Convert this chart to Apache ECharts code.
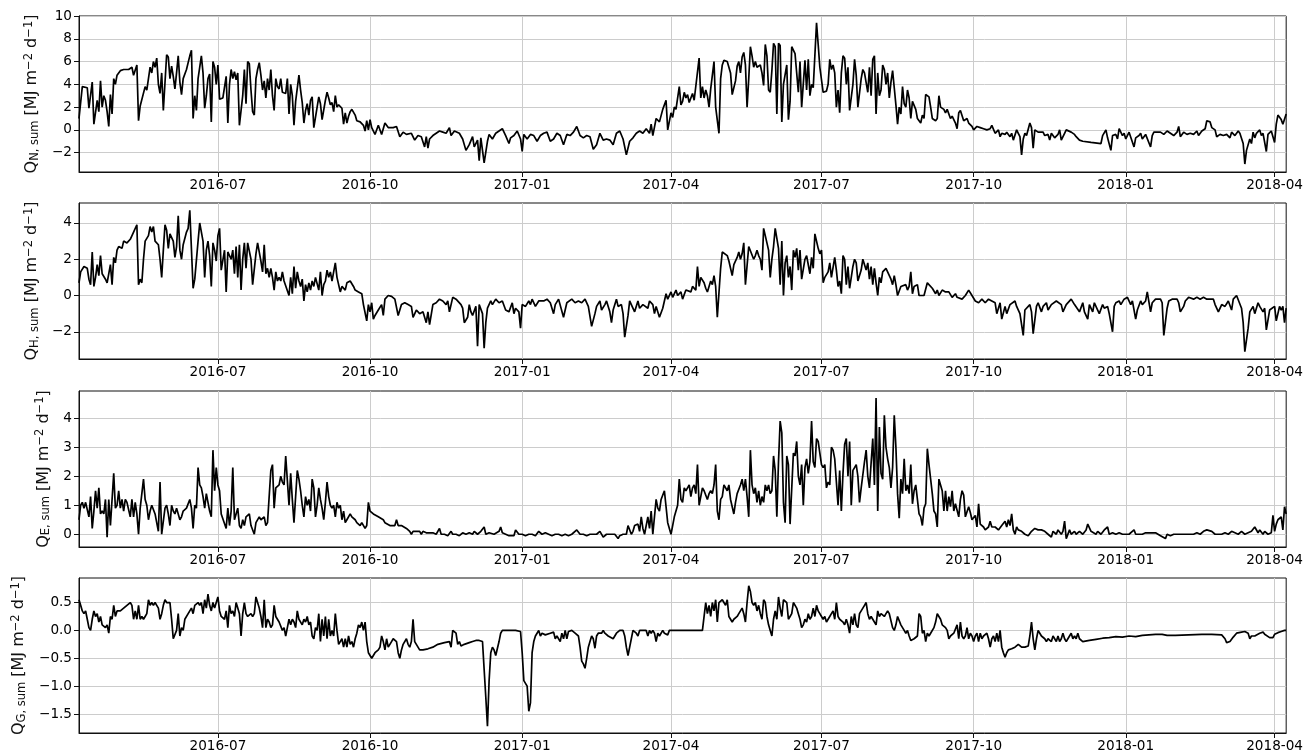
<!DOCTYPE html>
<html>
<head>
<meta charset="utf-8">
<script src="https://cdn.jsdelivr.net/npm/echarts@6/dist/echarts.min.js"></script>
<style>
html,body{margin:0;padding:0;background:#fff;}
#chart{width:1306px;height:755px;}
</style>
</head>
<body>
<div id="chart"></div>
<script>
// ---- DATA ----
// day offsets counted from the first date of the record (2016-04-08), values in MJ m-2 d-1
const START_DATE = '2016-04-08';
const LAST_DAY = 730;
const X_TICK_LABELS = ['2016-07','2016-10','2017-01','2017-04','2017-07','2017-10','2018-01','2018-04'];
const QN_TICKS = [-2, 0, 2, 4, 6, 8, 10];
const QH_TICKS = [-2, 0, 2, 4];
const QE_TICKS = [0, 1, 2, 3, 4];
const QG_TICKS = [-1.5, -1.0, -0.5, 0.0, 0.5];

const QN = [[0,1.0],[2,3.8],[5,3.7],[6,1.9],[8,4.2],[9,0.5],[11,2.6],[12,1.6],[13,4.3],[14,2.0],[15,3.0],[16,2.6],[17,1.6],[18,0.3],[19,3.1],[20,1.4],[21,4.5],[22,4.0],[23,4.8],[25,5.2],[27,5.3],[30,5.3],[32,5.5],[33,4.8],[35,5.7],[36,0.8],[37,2.1],[38,2.0],[40,3.8],[41,3.5],[42,4.5],[43,5.5],[44,5.0],[45,6.0],[46,5.5],[47,6.3],[48,4.0],[49,3.2],[50,5.0],[51,1.7],[52,1.8],[53,6.6],[54,6.4],[55,4.5],[56,5.6],[57,4.7],[58,3.6],[59,5.0],[60,6.5],[61,4.2],[62,3.1],[63,4.5],[65,5.3],[67,6.5],[68,7.0],[69,1.0],[70,3.0],[71,1.7],[72,4.5],[74,6.5],[75,5.0],[76,1.9],[77,3.0],[78,4.5],[79,4.9],[80,0.7],[81,6.0],[82,5.5],[83,4.0],[84,5.7],[85,2.7],[87,2.8],[89,4.7],[90,0.6],[91,4.0],[92,5.3],[93,4.5],[94,5.1],[95,4.4],[96,5.0],[97,0.4],[99,3.0],[100,5.3],[101,2.3],[102,6.0],[103,5.8],[104,3.5],[105,1.6],[106,1.3],[107,4.5],[108,5.3],[109,5.9],[110,4.8],[111,3.5],[112,4.3],[113,2.8],[114,4.5],[115,3.5],[116,5.3],[117,3.0],[118,1.7],[119,4.5],[120,3.8],[121,3.6],[122,4.5],[123,3.3],[125,3.2],[126,4.5],[127,1.4],[128,4.0],[129,3.0],[130,0.4],[131,2.5],[132,2.6],[133,4.8],[134,3.5],[135,2.4],[136,0.6],[137,1.7],[138,2.3],[139,1.3],[140,2.6],[141,2.9],[142,0.2],[144,2.0],[145,2.9],[146,2.3],[147,0.9],[149,2.6],[150,3.3],[151,2.8],[152,2.2],[153,2.4],[154,1.6],[155,3.0],[156,2.0],[157,2.2],[159,1.9],[160,0.5],[161,1.5],[162,0.6],[163,1.2],[164,1.6],[165,1.8],[167,1.3],[168,0.8],[170,0.7],[172,0.4],[173,-0.1],[174,0.8],[175,0.0],[176,0.9],[177,0.2],[179,-0.4],[181,0.4],[182,0.3],[183,-0.4],[185,0.6],[187,0.2],[190,0.2],[192,0.3],[194,-0.6],[196,-0.2],[198,-0.4],[201,-0.3],[203,-0.9],[205,-0.5],[207,-0.6],[209,-1.5],[210,-0.6],[211,-1.6],[212,-0.8],[214,-0.5],[216,-0.3],[218,-0.1],[220,-0.2],[222,-0.3],[224,0.2],[225,-0.5],[227,-0.1],[230,-0.3],[232,-0.8],[234,-1.8],[236,-1.3],[238,-0.6],[239,-1.5],[241,-0.9],[242,-2.7],[243,-0.7],[244,-0.6],[245,-2.9],[247,-1.0],[248,-0.4],[250,-0.8],[252,-0.3],[254,-0.1],[256,0.1],[258,-0.5],[260,-1.2],[261,-0.7],[263,-0.5],[265,-0.1],[267,-0.8],[268,-1.9],[269,-0.4],[271,-0.8],[273,-0.4],[275,-0.5],[277,-1.0],[279,-0.5],[281,-0.3],[283,-0.2],[285,-1.0],[287,-0.8],[289,-0.3],[291,-0.5],[293,-1.3],[295,-0.4],[297,-0.5],[299,-0.2],[301,0.3],[303,-0.5],[305,-0.7],[307,-0.5],[309,-0.6],[311,-1.7],[313,-1.3],[315,-0.3],[317,-0.9],[319,-0.8],[321,-0.9],[323,-1.3],[325,-0.3],[327,-0.1],[329,-0.8],[331,-2.2],[333,-1.0],[335,-0.7],[337,-0.3],[339,-0.1],[341,-0.3],[343,0.1],[345,-0.3],[346,0.5],[347,-0.5],[349,1.0],[351,0.7],[353,1.8],[355,2.6],[356,0.0],[358,1.5],[359,1.1],[360,2.0],[361,1.8],[363,3.8],[364,2.2],[365,2.5],[366,3.3],[367,2.8],[368,3.1],[369,2.4],[371,3.2],[372,2.6],[373,2.7],[375,6.3],[376,2.8],[377,3.8],[378,2.8],[379,3.5],[380,3.0],[381,2.0],[382,3.6],[383,3.7],[384,6.0],[385,2.0],[387,-0.3],[388,4.5],[389,5.7],[390,6.1],[392,6.0],[393,5.5],[394,5.0],[395,3.1],[397,4.3],[398,5.6],[399,6.0],[400,5.0],[401,6.4],[402,6.8],[403,5.7],[404,2.0],[405,4.5],[406,7.3],[407,6.5],[408,5.5],[409,6.0],[410,5.5],[412,5.7],[413,5.0],[414,3.9],[415,7.5],[416,6.5],[417,3.5],[418,3.3],[419,5.2],[420,7.6],[421,7.3],[422,1.4],[423,7.6],[424,7.4],[425,0.7],[426,4.0],[428,5.7],[429,0.9],[430,2.5],[431,7.3],[432,7.0],[433,6.7],[435,3.3],[436,6.0],[437,2.0],[439,6.1],[440,3.5],[441,6.2],[442,3.0],[443,4.0],[444,3.7],[446,9.4],[447,7.5],[448,5.5],[449,5.4],[450,3.3],[452,3.4],[453,4.0],[454,6.2],[455,5.3],[456,5.7],[457,5.0],[458,2.0],[459,3.5],[460,1.5],[461,5.0],[462,6.5],[463,6.3],[464,4.0],[465,5.5],[466,1.7],[468,4.0],[469,6.2],[470,4.8],[471,2.0],[473,4.5],[474,5.3],[475,5.0],[476,5.1],[477,3.3],[478,5.5],[479,3.0],[480,6.2],[481,6.5],[482,1.4],[483,5.0],[484,3.0],[485,3.5],[486,5.7],[487,5.3],[488,4.0],[489,5.0],[490,2.8],[491,4.2],[492,5.2],[493,3.7],[494,2.2],[495,0.5],[496,2.0],[497,1.4],[498,3.8],[499,2.3],[500,2.0],[501,3.5],[502,2.8],[503,1.0],[504,2.5],[506,1.8],[507,1.0],[509,0.6],[510,1.3],[511,1.0],[512,3.1],[514,2.9],[515,2.0],[516,1.0],[518,0.8],[519,1.0],[520,3.0],[521,2.0],[522,2.0],[523,1.8],[524,1.5],[525,1.8],[527,1.0],[528,1.2],[530,0.6],[531,0.1],[532,1.5],[533,1.7],[534,1.6],[535,0.8],[537,1.0],[538,0.6],[540,0.3],[541,0.0],[543,0.3],[545,0.2],[547,0.1],[549,0.0],[551,0.1],[552,0.4],[553,0.4],[554,-0.3],[556,0.0],[557,-0.6],[558,-0.3],[560,-0.4],[561,-0.2],[563,-0.6],[564,-0.3],[565,-0.9],[567,0.0],[568,-0.3],[569,-0.6],[570,-2.2],[571,-0.8],[572,-0.3],[573,-0.5],[575,0.6],[576,0.2],[577,-1.6],[578,0.0],[580,-0.2],[581,-0.3],[583,-0.2],[584,-0.5],[586,-0.4],[587,-0.9],[588,-0.3],[590,-0.7],[592,-0.4],[593,0.0],[594,-0.9],[596,-0.3],[597,0.0],[598,0.1],[600,-0.2],[602,-0.4],[603,-0.6],[605,-0.9],[607,-1.0],[612,-1.1],[618,-1.2],[619,-0.5],[621,0.0],[622,-0.7],[624,-1.8],[625,-0.5],[627,-0.4],[628,-0.8],[629,0.1],[631,-0.5],[632,-0.3],[633,-0.8],[635,-0.2],[636,-0.3],[638,-1.5],[639,-0.7],[641,-0.5],[642,-0.3],[643,-0.8],[645,-0.4],[646,-0.4],[648,-1.5],[649,-0.5],[650,-0.2],[652,-0.2],[654,-0.2],[656,-0.4],[658,-0.1],[660,-0.3],[662,-0.5],[664,-0.2],[665,0.3],[666,-0.6],[668,-0.2],[670,-0.4],[672,-0.3],[674,-0.4],[676,-0.1],[677,-0.5],[679,-0.1],[681,0.1],[682,0.8],[684,0.7],[685,0.2],[687,0.0],[688,-0.6],[690,-0.4],[692,-0.5],[694,-0.4],[696,-0.7],[697,-0.2],[699,-0.5],[701,-0.1],[702,-0.3],[704,-1.2],[705,-3.0],[706,-1.8],[708,-0.8],[709,-1.2],[710,-0.2],[711,-0.7],[712,-0.3],[714,0.0],[715,-0.5],[716,-0.3],[718,-1.9],[719,-0.4],[721,-0.1],[722,0.0],[723,-1.1],[724,0.5],[725,1.3],[727,0.9],[728,0.5],[730,1.4]];

const QH = [[0,0.7],[1,1.3],[3,1.6],[4,1.7],[5,1.5],[6,0.9],[7,0.6],[8,2.4],[9,0.5],[10,1.0],[11,1.7],[12,1.1],[13,2.2],[14,1.2],[15,1.3],[16,0.9],[17,0.7],[18,0.6],[19,1.7],[20,0.6],[21,2.1],[22,1.8],[23,2.5],[24,2.7],[26,2.6],[27,3.0],[29,2.9],[31,3.1],[33,3.5],[35,3.9],[36,0.6],[37,0.9],[38,0.7],[39,2.0],[40,3.0],[42,3.3],[43,3.8],[44,3.5],[45,3.8],[46,3.0],[48,2.8],[49,2.0],[50,1.0],[51,2.5],[52,3.9],[53,3.6],[54,2.6],[55,3.4],[57,3.0],[58,2.1],[59,2.7],[60,4.4],[61,2.5],[62,2.0],[63,2.8],[65,3.5],[66,3.7],[67,4.7],[68,4.6],[69,0.4],[70,0.9],[71,0.8],[72,3.0],[73,4.0],[75,3.0],[76,1.0],[77,2.5],[78,3.0],[79,2.2],[80,0.5],[81,2.9],[82,2.5],[83,1.9],[84,3.3],[85,3.7],[86,1.4],[87,1.3],[88,2.5],[89,0.2],[90,2.4],[92,2.0],[93,2.5],[94,1.2],[95,2.7],[96,1.0],[97,2.8],[98,0.3],[99,2.0],[100,2.9],[101,1.5],[102,2.9],[103,2.8],[104,2.0],[105,0.6],[106,0.7],[107,2.3],[108,2.9],[109,2.8],[110,1.9],[111,1.3],[112,2.8],[113,1.2],[114,1.5],[115,1.0],[116,1.5],[117,1.0],[118,0.3],[119,1.3],[120,0.8],[121,1.0],[122,0.8],[123,1.3],[124,0.8],[125,0.7],[127,0.0],[128,1.0],[129,0.1],[130,1.6],[131,0.4],[132,1.3],[133,0.8],[134,0.5],[135,0.9],[136,-0.3],[137,0.6],[138,0.2],[139,0.7],[140,0.3],[141,0.8],[142,0.5],[143,1.0],[144,0.9],[145,0.3],[146,1.3],[147,0.0],[148,0.6],[149,0.8],[150,1.4],[151,1.0],[152,1.3],[153,0.8],[154,1.3],[155,1.8],[156,1.0],[157,1.1],[158,0.2],[159,0.5],[161,0.3],[162,0.7],[164,0.8],[165,0.9],[166,0.5],[167,0.3],[169,0.2],[171,0.1],[172,-0.5],[173,-0.6],[174,-1.4],[175,-0.5],[176,-0.9],[177,-0.4],[178,-1.3],[179,-1.1],[181,-0.8],[183,-0.5],[184,-1.1],[185,-0.2],[187,0.0],[189,-0.05],[191,-0.2],[192,-0.3],[193,-1.1],[195,-0.5],[197,-0.4],[199,-0.5],[201,-0.6],[202,-1.2],[204,-0.8],[206,-1.0],[208,-0.9],[210,-1.5],[211,-0.9],[212,-1.6],[214,-0.5],[216,-0.4],[218,-0.2],[220,-0.3],[222,-0.5],[223,-0.3],[224,-0.9],[226,-0.1],[228,-0.2],[229,-0.3],[231,-0.5],[232,-0.7],[233,-1.5],[235,-1.2],[236,-0.5],[237,-0.9],[238,-1.1],[240,-0.6],[241,-2.8],[242,-0.5],[243,-0.4],[244,-1.0],[245,-2.9],[246,-1.5],[247,-0.7],[249,-0.3],[250,-0.5],[252,-0.2],[254,-0.4],[256,-0.3],[258,-0.8],[260,-0.9],[262,-0.4],[263,-1.0],[264,-0.7],[266,-0.9],[267,-1.8],[268,-0.5],[270,-0.6],[272,-0.3],[273,-0.5],[274,-0.2],[276,-0.6],[278,-0.3],[279,-0.2],[281,-0.3],[283,-0.2],[285,-0.4],[287,-1.0],[288,-0.5],[290,-0.2],[291,-0.3],[293,-1.2],[295,-0.4],[296,-0.3],[298,-0.2],[300,-0.4],[302,-0.3],[304,-0.4],[306,-0.2],[308,-0.6],[310,-1.7],[312,-1.0],[313,-0.6],[315,-0.3],[316,-0.8],[318,-0.5],[319,-0.3],[321,-0.9],[322,-1.5],[323,-0.8],[325,-0.2],[326,-0.6],[328,-0.5],[329,-1.0],[330,-2.3],[332,-1.1],[333,-0.3],[334,-0.5],[336,-0.9],[338,-0.3],[339,-0.7],[341,-0.5],[342,-0.6],[344,-0.7],[345,-0.3],[347,-0.5],[348,-1.0],[349,-0.6],[351,-1.2],[353,-0.7],[355,0.1],[356,-0.2],[358,0.2],[359,-0.1],[361,0.3],[362,0.0],[364,0.2],[365,-0.2],[367,0.3],[368,0.4],[370,0.2],[371,0.5],[373,0.3],[374,1.6],[375,0.5],[376,1.0],[378,0.7],[379,0.4],[380,0.2],[382,0.8],[383,0.6],[384,1.1],[385,0.5],[386,-1.2],[388,1.5],[389,2.4],[390,2.3],[392,2.2],[393,1.9],[394,2.0],[395,1.1],[396,1.7],[398,2.1],[399,2.4],[400,2.0],[401,2.3],[402,2.9],[403,0.6],[404,0.7],[405,2.7],[406,2.6],[408,2.0],[409,2.2],[410,2.5],[411,2.2],[412,2.0],[413,1.4],[414,3.7],[415,3.3],[417,2.5],[418,1.0],[419,2.0],[420,2.7],[421,3.7],[423,2.6],[424,0.6],[425,3.0],[426,0.0],[427,1.8],[428,2.2],[429,1.0],[430,1.6],[431,0.3],[432,2.5],[433,2.1],[434,2.6],[435,1.4],[436,2.5],[437,0.9],[439,2.0],[440,2.2],[441,2.3],[442,1.2],[443,2.1],[444,1.5],[445,3.4],[447,2.6],[448,2.3],[449,2.5],[450,0.7],[451,1.0],[452,0.9],[453,1.3],[454,1.8],[455,1.0],[457,2.1],[458,1.4],[459,0.5],[460,0.8],[461,0.1],[462,2.2],[463,2.0],[464,0.6],[465,1.6],[466,0.4],[468,1.6],[469,2.0],[470,1.8],[471,0.8],[473,1.4],[474,2.0],[476,1.4],[477,1.8],[478,0.9],[479,1.6],[480,0.6],[481,1.5],[482,0.7],[483,0.0],[484,1.0],[485,0.7],[486,1.3],[488,1.5],[489,1.4],[491,0.9],[492,0.6],[493,1.1],[494,0.6],[495,0.0],[497,0.5],[498,0.4],[500,0.6],[501,0.3],[502,0.5],[503,1.3],[504,0.1],[505,0.5],[507,0.6],[508,0.0],[509,0.1],[511,0.0],[513,0.7],[514,0.8],[516,0.4],[518,0.1],[519,0.3],[520,0.0],[522,0.3],[524,0.2],[525,0.1],[526,0.2],[528,-0.1],[530,0.1],[531,-0.1],[532,0.0],[534,-0.2],[536,0.0],[537,-0.1],[538,0.3],[540,0.0],[542,-0.3],[544,-0.4],[546,-0.2],[548,-0.4],[550,-0.2],[552,-0.3],[554,-0.4],[555,-1.0],[557,-0.4],[558,-1.3],[560,-0.6],[561,-1.0],[563,-0.5],[564,-0.4],[566,-0.3],[567,-0.6],[569,-1.0],[571,-2.2],[572,-0.8],[573,-0.9],[575,-0.5],[576,-0.9],[577,-2.1],[579,-0.6],[580,-0.4],[582,-0.9],[583,-0.6],[585,-0.4],[586,-0.8],[588,-0.5],[589,-0.4],[591,-0.3],[592,-0.2],[594,-0.5],[595,-0.9],[597,-0.5],[598,-0.4],[600,-0.2],[602,-0.5],[603,-0.6],[605,-0.9],[607,-0.4],[608,-0.9],[610,-1.3],[611,-0.5],[613,-0.9],[614,-0.4],[616,-0.8],[617,-1.0],[619,-0.5],[620,-0.7],[622,-0.6],[623,-1.0],[625,-2.0],[626,-0.6],[627,-0.4],[629,-0.3],[630,-0.5],[632,-0.2],[633,-0.3],[634,-0.1],[636,-0.5],[637,-0.3],[639,-1.3],[640,-0.8],[642,-0.3],[643,-0.5],[645,-0.3],[646,0.2],[648,-0.9],[649,-0.4],[651,-0.2],[652,-0.3],[654,-0.2],[655,-0.4],[656,-2.2],[658,-0.7],[659,-0.3],[661,-0.2],[662,-0.3],[664,-0.2],[665,-0.4],[666,-0.9],[668,-0.6],[669,-0.3],[671,-0.1],[672,-0.05],[674,-0.2],[676,-0.1],[678,-0.2],[680,-0.1],[682,-0.2],[684,-0.2],[686,-0.2],[687,-0.5],[689,-0.9],[691,-0.5],[692,-0.4],[693,-0.6],[695,-0.3],[697,-0.8],[698,-0.2],[700,0.0],[701,-0.1],[703,-0.7],[704,-1.5],[705,-3.1],[707,-1.8],[708,-0.9],[710,-0.6],[711,-1.0],[713,-0.4],[714,-0.6],[716,-0.9],[717,-0.7],[718,-1.9],[720,-0.8],[721,-0.9],[723,-0.6],[724,-1.4],[726,-0.6],[727,-0.8],[728,-0.6],[729,-1.5],[730,-0.7]];

const QE = [[0,0.5],[1,1.0],[2,1.1],[3,0.9],[4,1.1],[5,1.1],[6,0.6],[7,1.3],[8,0.2],[9,0.8],[10,1.5],[11,0.9],[12,1.6],[13,0.7],[14,0.8],[15,0.7],[16,1.2],[17,-0.1],[18,1.2],[19,0.3],[21,2.1],[22,0.9],[23,1.0],[24,1.5],[25,0.9],[26,1.2],[27,0.8],[28,1.2],[29,1.1],[31,0.6],[32,1.2],[33,0.6],[34,1.1],[35,0.7],[36,0.0],[37,0.9],[38,1.4],[39,1.9],[40,1.2],[41,1.0],[42,0.5],[43,0.8],[44,1.0],[45,1.0],[46,0.7],[48,0.1],[49,1.8],[50,0.0],[51,0.0],[52,0.9],[53,1.0],[54,0.7],[55,0.3],[56,1.0],[57,0.8],[58,0.7],[59,0.9],[60,0.7],[61,0.5],[62,0.6],[63,0.8],[65,0.9],[67,1.2],[68,0.9],[69,0.2],[70,1.0],[71,0.9],[72,2.3],[73,1.7],[74,1.6],[75,1.3],[76,0.9],[77,1.4],[78,1.4],[79,0.8],[80,0.6],[81,2.9],[82,1.5],[83,2.3],[84,1.7],[85,1.5],[86,0.7],[87,0.7],[89,0.2],[90,0.9],[91,0.3],[92,0.8],[93,2.3],[94,0.5],[95,0.5],[96,0.9],[97,0.3],[98,0.2],[99,0.5],[100,0.3],[101,0.6],[103,0.7],[104,0.3],[106,0.0],[107,0.4],[109,0.6],[110,0.5],[112,0.6],[113,0.3],[114,0.4],[116,2.2],[117,2.4],[118,0.9],[119,1.6],[120,1.6],[121,1.7],[122,2.0],[123,1.8],[124,1.7],[125,2.7],[127,1.0],[128,2.1],[129,1.2],[130,0.4],[131,1.3],[132,2.2],[133,1.9],[134,1.5],[135,1.0],[136,0.6],[137,1.3],[138,1.0],[139,1.2],[140,0.8],[141,1.9],[142,1.6],[143,0.6],[144,1.0],[145,1.6],[146,1.2],[147,0.9],[148,0.5],[149,1.1],[150,1.8],[151,1.3],[152,1.0],[153,0.9],[154,1.0],[155,0.6],[156,1.1],[157,0.9],[158,1.0],[159,0.5],[160,0.8],[161,0.4],[162,0.5],[164,0.7],[165,0.6],[167,0.5],[168,0.4],[170,0.3],[171,0.4],[173,0.2],[174,0.3],[175,1.1],[176,0.8],[178,0.7],[179,0.7],[181,0.6],[182,0.6],[184,0.5],[185,0.4],[186,0.4],[188,0.3],[189,0.3],[191,0.3],[192,0.5],[193,0.3],[195,0.3],[196,0.3],[198,0.2],[200,0.1],[201,0.0],[202,0.1],[204,0.1],[206,0.1],[207,0.0],[208,0.1],[210,0.05],[212,0.05],[214,0.05],[216,0.0],[218,0.2],[219,0.0],[221,0.0],[223,-0.05],[225,0.1],[226,0.0],[228,0.0],[230,-0.05],[232,0.05],[234,0.0],[236,0.05],[238,0.0],[239,0.1],[241,0.0],[242,0.05],[243,0.1],[245,0.25],[246,0.0],[248,0.05],[249,0.1],[251,0.0],[252,0.0],[254,0.1],[255,0.25],[256,0.05],[258,0.0],[260,-0.05],[261,0.0],[263,-0.05],[264,0.15],[266,0.0],[268,0.0],[270,-0.05],[272,0.0],[274,0.0],[276,-0.05],[278,0.1],[280,0.0],[282,0.05],[284,0.0],[286,-0.05],[288,0.0],[290,0.0],[292,-0.05],[294,0.0],[296,-0.05],[298,0.0],[299,0.05],[301,0.15],[303,0.0],[305,0.0],[307,-0.05],[309,0.0],[311,0.0],[313,0.0],[315,0.1],[317,-0.1],[319,0.0],[321,0.0],[322,-0.05],[324,0.0],[326,-0.15],[327,-0.05],[329,0.0],[331,0.0],[332,0.3],[334,0.0],[335,0.1],[336,0.3],[338,0.35],[339,0.1],[340,0.6],[341,0.2],[342,0.0],[344,0.6],[345,0.2],[346,0.8],[347,0.0],[348,0.0],[349,1.2],[350,0.9],[351,0.8],[352,1.2],[354,1.5],[355,1.5],[356,0.4],[358,0.0],[359,0.3],[360,0.6],[362,1.0],[363,1.9],[364,1.2],[365,1.1],[366,1.6],[367,1.5],[368,1.6],[369,1.7],[370,1.3],[371,1.6],[372,1.7],[373,1.4],[374,2.4],[375,1.0],[377,1.6],[378,1.5],[379,1.5],[380,1.2],[381,1.4],[382,1.5],[383,1.4],[384,1.7],[385,2.4],[386,0.8],[387,0.5],[388,1.2],[389,1.3],[390,1.7],[392,1.5],[393,1.7],[394,1.2],[396,0.7],[397,1.1],[398,1.4],[400,1.7],[401,1.9],[402,1.5],[403,1.9],[404,1.3],[405,0.6],[406,2.9],[407,1.7],[408,1.4],[409,1.6],[410,1.1],[411,1.5],[412,1.0],[413,1.3],[414,1.1],[415,1.7],[416,1.5],[417,1.7],[418,1.4],[419,1.5],[420,2.7],[421,2.2],[422,0.6],[423,2.5],[424,3.9],[425,3.5],[426,1.1],[427,0.4],[428,2.7],[429,2.4],[430,0.35],[431,0.4],[432,2.8],[433,2.7],[434,3.2],[435,2.0],[436,1.7],[437,2.4],[438,1.0],[439,2.3],[440,2.6],[441,2.1],[442,2.5],[443,3.9],[444,2.5],[445,2.3],[446,3.3],[447,3.2],[448,2.8],[449,2.4],[450,2.3],[451,2.4],[452,1.6],[453,1.8],[454,1.7],[455,3.0],[456,2.9],[457,2.6],[458,1.8],[459,1.0],[460,2.2],[461,0.8],[462,2.1],[463,3.1],[464,3.3],[465,2.0],[466,3.2],[467,1.0],[468,2.2],[469,2.3],[470,2.4],[471,2.0],[472,1.1],[473,1.6],[475,2.5],[476,2.9],[477,2.0],[478,1.6],[480,3.3],[481,1.7],[482,4.7],[483,0.8],[484,3.7],[485,2.1],[486,1.9],[487,4.1],[488,3.0],[489,2.6],[490,2.3],[491,1.6],[492,2.3],[493,4.1],[494,3.0],[495,1.4],[496,0.55],[497,1.9],[498,1.4],[499,2.6],[500,1.5],[501,1.7],[502,1.4],[503,2.4],[504,1.05],[505,1.5],[506,1.7],[507,1.7],[508,0.7],[509,0.6],[510,0.3],[511,0.9],[512,1.05],[513,2.95],[514,2.4],[515,1.9],[516,1.4],[517,0.8],[518,0.7],[519,0.25],[520,1.9],[521,1.9],[522,1.5],[523,0.8],[524,1.5],[525,0.8],[526,1.3],[527,0.95],[528,1.5],[529,0.8],[530,1.05],[531,1.0],[532,0.6],[533,1.2],[534,1.5],[535,1.35],[536,0.6],[537,0.6],[538,0.95],[539,0.75],[540,0.5],[541,0.45],[542,0.65],[543,0.25],[544,1.05],[545,0.35],[546,0.35],[547,0.25],[548,0.15],[550,0.25],[551,0.45],[552,0.25],[553,0.2],[554,0.25],[556,0.15],[558,0.3],[560,0.45],[561,0.25],[562,0.5],[563,0.3],[564,0.7],[565,0.15],[566,0.0],[567,0.25],[568,0.15],[570,0.1],[572,0.0],[574,-0.05],[576,0.1],[578,0.2],[580,0.15],[582,0.15],[584,0.1],[586,0.0],[588,-0.1],[589,0.1],[591,0.0],[592,0.15],[594,0.0],[595,0.1],[596,0.45],[597,-0.15],[599,0.15],[600,0.0],[602,0.1],[603,0.0],[605,0.1],[607,0.0],[609,0.15],[610,0.35],[612,0.1],[613,0.15],[615,0.0],[616,0.1],[618,0.0],[620,0.15],[622,0.25],[623,0.0],[625,0.05],[627,0.0],[629,0.05],[631,0.0],[633,0.0],[635,0.0],[636,0.0],[638,0.15],[639,0.0],[641,0.0],[643,0.0],[645,0.05],[646,0.1],[648,0.05],[649,0.0],[651,0.05],[652,0.0],[654,-0.05],[655,0.0],[657,-0.15],[658,0.0],[660,-0.05],[662,0.0],[664,0.0],[666,0.0],[668,0.0],[670,0.0],[672,0.0],[674,0.0],[676,0.05],[678,0.0],[680,0.1],[682,0.15],[683,0.15],[685,0.1],[687,0.0],[689,0.0],[691,0.0],[693,0.05],[695,0.0],[697,0.1],[699,0.05],[701,0.0],[703,0.1],[705,0.0],[707,0.05],[709,0.1],[711,0.25],[713,0.05],[714,0.15],[716,0.0],[717,0.1],[719,0.0],[721,0.05],[722,0.65],[723,0.1],[724,0.35],[725,0.5],[726,0.45],[727,0.6],[728,0.15],[729,0.95],[730,0.7]];

const QG = [[0,0.55],[1,0.45],[2,0.35],[3,0.3],[4,0.35],[5,0.2],[6,0.05],[7,0.0],[8,0.2],[9,0.35],[10,0.25],[11,0.3],[12,0.15],[13,0.25],[14,0.1],[15,0.1],[16,0.05],[17,0.1],[18,-0.05],[19,0.25],[20,0.2],[21,0.45],[22,0.25],[23,0.35],[25,0.35],[27,0.4],[29,0.45],[31,0.5],[32,0.45],[33,0.2],[34,0.35],[35,0.2],[36,0.45],[37,0.2],[38,0.25],[39,0.2],[40,0.25],[41,0.3],[42,0.55],[43,0.45],[44,0.5],[45,0.45],[46,0.5],[47,0.45],[48,0.4],[49,0.2],[50,0.3],[51,0.45],[52,0.55],[53,0.5],[55,0.5],[56,0.2],[57,-0.15],[59,0.0],[60,0.3],[61,-0.1],[62,0.05],[63,0.0],[64,0.2],[65,0.2],[67,0.35],[68,0.4],[69,0.3],[70,0.45],[71,0.45],[72,0.5],[73,0.45],[74,0.5],[75,0.3],[76,0.55],[77,0.4],[78,0.65],[79,0.45],[80,0.35],[81,0.5],[82,0.4],[83,0.4],[84,0.6],[85,0.35],[86,0.25],[87,0.25],[88,0.2],[89,0.35],[90,0.05],[91,0.45],[92,0.3],[93,0.35],[94,0.25],[95,0.5],[96,0.4],[97,0.3],[98,-0.1],[99,0.3],[100,0.5],[101,0.3],[102,0.25],[103,0.25],[104,0.3],[105,0.25],[106,0.3],[107,0.6],[108,0.5],[109,0.4],[110,0.25],[111,0.05],[112,0.55],[113,0.05],[114,0.2],[115,0.15],[116,0.05],[117,0.1],[118,0.45],[119,0.25],[120,0.2],[121,0.15],[122,0.15],[123,0.0],[124,0.05],[125,-0.1],[126,0.05],[127,0.2],[128,0.1],[129,0.2],[130,0.15],[131,0.05],[132,0.35],[133,0.2],[134,0.2],[135,0.1],[136,0.2],[137,0.15],[138,0.25],[139,0.1],[140,0.15],[141,-0.1],[142,-0.15],[143,0.05],[144,0.0],[145,0.3],[146,-0.2],[147,0.2],[148,-0.1],[149,0.25],[150,-0.15],[151,0.2],[152,-0.1],[153,0.0],[154,-0.1],[155,0.3],[156,0.0],[157,-0.25],[158,-0.2],[159,-0.15],[160,-0.3],[161,-0.15],[162,-0.3],[163,-0.1],[164,-0.25],[165,-0.2],[166,-0.3],[167,-0.15],[168,-0.05],[169,0.1],[170,0.05],[171,0.15],[172,0.0],[173,0.15],[174,-0.2],[175,-0.4],[177,-0.5],[178,-0.45],[179,-0.4],[181,-0.35],[182,-0.3],[183,-0.1],[184,-0.2],[185,-0.35],[186,-0.15],[187,-0.3],[189,-0.2],[190,-0.15],[192,-0.2],[193,-0.4],[194,-0.5],[195,-0.35],[196,-0.25],[198,-0.15],[199,-0.25],[200,-0.3],[201,-0.2],[202,0.2],[203,-0.2],[204,-0.25],[206,-0.35],[208,-0.35],[211,-0.33],[214,-0.3],[217,-0.25],[221,-0.22],[224,-0.2],[225,-0.3],[226,0.0],[227,0.0],[228,-0.05],[229,-0.25],[230,-0.2],[231,-0.28],[233,-0.25],[236,-0.22],[238,-0.2],[240,-0.18],[242,-0.18],[243,-0.15],[244,-0.2],[245,-0.7],[246,-1.2],[247,-1.72],[248,-0.9],[249,-0.4],[250,-0.3],[251,-0.35],[252,-0.45],[253,-0.45],[254,-0.2],[255,-0.05],[256,0.0],[259,0.0],[264,0.0],[267,-0.02],[268,-0.4],[269,-0.9],[271,-1.0],[272,-1.45],[273,-1.3],[274,-0.4],[275,-0.2],[276,-0.1],[277,-0.05],[278,0.0],[279,-0.1],[280,-0.05],[282,-0.08],[285,-0.05],[287,-0.03],[288,-0.15],[289,-0.1],[290,-0.15],[291,-0.2],[292,-0.05],[293,-0.15],[294,0.0],[295,-0.15],[296,-0.02],[298,0.0],[300,-0.05],[302,-0.1],[303,-0.3],[304,-0.55],[305,-0.6],[306,-0.68],[307,-0.5],[308,-0.3],[309,-0.2],[310,-0.1],[311,-0.15],[312,-0.32],[313,-0.1],[314,-0.05],[316,-0.05],[317,0.0],[318,-0.05],[319,-0.02],[320,-0.1],[321,-0.1],[323,-0.15],[324,-0.1],[325,-0.05],[327,0.0],[329,0.0],[330,-0.1],[331,-0.3],[332,-0.45],[333,-0.3],[334,-0.15],[335,0.0],[337,-0.05],[338,-0.1],[339,0.0],[341,0.0],[343,0.0],[344,-0.1],[345,0.0],[346,-0.05],[347,0.0],[348,-0.05],[349,-0.2],[350,-0.05],[351,-0.1],[353,0.0],[354,-0.05],[355,-0.03],[356,-0.08],[357,0.0],[365,0.0],[373,0.0],[377,0.0],[378,0.25],[379,0.5],[380,0.3],[381,0.45],[382,0.25],[383,0.5],[384,0.35],[385,0.55],[386,0.15],[387,0.5],[388,0.5],[389,0.55],[390,0.5],[391,0.45],[392,0.55],[393,0.25],[394,0.2],[395,0.15],[396,0.2],[397,0.2],[398,0.25],[399,0.3],[400,0.35],[401,0.4],[402,0.3],[403,0.15],[404,0.5],[405,0.8],[406,0.7],[407,0.5],[408,0.45],[409,0.5],[410,0.35],[411,0.45],[412,0.3],[413,0.2],[414,0.55],[415,0.5],[416,0.25],[417,0.1],[418,0.0],[419,-0.1],[420,0.2],[421,0.35],[422,0.2],[423,0.6],[424,0.4],[425,0.25],[426,0.55],[427,0.55],[428,0.5],[429,0.2],[430,0.25],[431,0.3],[432,0.5],[433,0.5],[434,0.4],[435,0.3],[436,0.2],[437,0.05],[438,0.1],[439,0.2],[440,0.15],[441,0.3],[442,0.2],[443,0.25],[444,0.4],[445,0.25],[446,0.45],[447,0.35],[448,0.35],[449,0.25],[450,0.2],[451,0.25],[452,0.15],[453,0.2],[454,0.25],[455,0.3],[456,0.35],[457,0.2],[458,0.5],[459,0.25],[460,0.2],[461,0.2],[462,0.15],[463,0.1],[464,0.2],[465,0.1],[466,-0.05],[467,0.25],[468,0.1],[469,0.3],[470,0.1],[471,0.05],[472,0.3],[473,0.35],[474,0.35],[475,0.45],[476,0.5],[477,0.3],[478,0.2],[479,0.25],[480,0.2],[481,0.2],[482,0.1],[483,0.35],[484,0.25],[485,0.3],[486,0.3],[487,0.25],[488,0.3],[489,0.35],[490,0.3],[491,0.3],[492,0.05],[493,0.0],[494,0.1],[495,0.25],[496,0.25],[497,0.1],[498,0.05],[499,0.0],[500,-0.05],[501,0.0],[502,-0.1],[503,-0.18],[505,-0.15],[507,-0.1],[508,0.3],[509,0.25],[510,-0.05],[511,0.0],[512,-0.2],[513,-0.05],[514,-0.1],[515,-0.05],[517,0.05],[518,0.15],[519,0.3],[520,0.25],[521,0.2],[522,0.1],[523,0.1],[524,0.05],[525,0.0],[526,-0.15],[527,-0.1],[529,-0.05],[530,-0.05],[531,0.1],[532,-0.15],[533,0.15],[534,-0.1],[535,-0.15],[536,-0.1],[537,0.05],[538,-0.15],[539,-0.05],[540,-0.1],[541,-0.2],[542,-0.1],[543,-0.05],[544,-0.2],[545,-0.05],[546,-0.15],[547,-0.1],[548,-0.1],[549,-0.05],[550,-0.15],[551,-0.3],[552,-0.15],[553,-0.1],[554,-0.2],[555,-0.05],[556,-0.2],[557,0.0],[558,-0.3],[559,-0.4],[560,-0.48],[561,-0.4],[562,-0.35],[563,-0.38],[564,-0.33],[566,-0.3],[568,-0.25],[570,-0.3],[572,-0.3],[574,-0.28],[575,-0.1],[576,0.15],[577,-0.15],[578,-0.35],[579,-0.15],[580,0.0],[581,-0.05],[582,-0.1],[583,-0.1],[584,-0.15],[585,-0.2],[586,-0.15],[587,-0.15],[588,-0.2],[589,-0.1],[590,-0.15],[591,-0.2],[592,-0.1],[593,-0.2],[594,-0.15],[595,-0.05],[596,-0.15],[597,-0.2],[598,-0.15],[599,-0.1],[600,-0.05],[601,-0.15],[602,-0.1],[603,-0.15],[604,-0.05],[605,-0.15],[607,-0.2],[611,-0.18],[615,-0.16],[619,-0.14],[623,-0.13],[627,-0.11],[631,-0.12],[635,-0.1],[639,-0.11],[643,-0.09],[647,-0.08],[651,-0.07],[655,-0.07],[658,-0.09],[663,-0.09],[671,-0.08],[679,-0.07],[685,-0.07],[691,-0.08],[693,-0.15],[694,-0.22],[695,-0.24],[696,-0.2],[698,-0.12],[700,-0.05],[703,-0.03],[705,-0.02],[707,-0.05],[708,-0.15],[709,-0.1],[710,-0.07],[711,-0.1],[712,-0.08],[714,-0.05],[716,-0.03],[717,-0.07],[718,-0.1],[720,-0.13],[721,-0.15],[722,-0.13],[723,-0.07],[725,-0.04],[727,-0.02],[729,0.0],[730,0.0]];

// ---- BUILD ----
const [SY, SM, SD] = START_DATE.split('-').map(Number);
function dayToTime(d) { return new Date(SY, SM - 1, SD + d).getTime(); }
function tickToTime(s) { const [y, m] = s.split('-').map(Number); return new Date(y, m - 1, 1).getTime(); }
const xTickTimes = X_TICK_LABELS.map(tickToTime);
const FONT = 'DejaVu Sans';
const FS = 13.6;
const NFS = 16;
const SFS = 11.5;
const NLH = 18;

const panels = [
  { sub: 'N, sum', data: QN, ticks: QN_TICKS, min: -3.7, max: 10, split: 7, dec: 0, top: 16, height: 156 },
  { sub: 'H, sum', data: QH, ticks: QH_TICKS, min: -3.5, max: 5.1, split: 4, dec: 0, top: 203, height: 156 },
  { sub: 'E, sum', data: QE, ticks: QE_TICKS, min: -0.44, max: 4.94, split: 5, dec: 0, top: 391, height: 156 },
  { sub: 'G, sum', data: QG, ticks: QG_TICKS, min: -1.84, max: 0.94, split: 5, dec: 1, top: 578, height: 155 }
];

const grids = [], xAxes = [], yAxes = [], series = [];
panels.forEach((p, i) => {
  grids.push({ left: 79, right: 18, top: p.top, height: p.height, show: true, borderColor: '#111', borderWidth: 1, backgroundColor: 'transparent' });
  xAxes.push({
    type: 'value', gridIndex: i, min: dayToTime(0), max: dayToTime(LAST_DAY),
    axisLine: { show: true, onZero: false, lineStyle: { color: '#111', width: 1 } },
    axisTick: { show: true, inside: false, length: 5, customValues: xTickTimes, lineStyle: { color: '#111', width: 1 } },
    axisLabel: { show: true, customValues: xTickTimes, margin: 6, color: '#000', fontFamily: FONT, fontSize: FS,
      showMinLabel: true, showMaxLabel: true,
      formatter: v => { const d = new Date(v); return d.getFullYear() + '-' + String(d.getMonth() + 1).padStart(2, '0'); } },
    splitLine: { show: true, lineStyle: { color: '#cccccc', width: 1 } }
  });
  yAxes.push({
    type: 'value', gridIndex: i, min: p.min, max: p.max, splitNumber: p.split,
    axisLine: { show: true, onZero: false, lineStyle: { color: '#111', width: 1 } },
    axisTick: { show: true, inside: false, length: 5, customValues: p.ticks, lineStyle: { color: '#111', width: 1 } },
    axisLabel: { show: true, customValues: p.ticks, margin: 7, color: '#000', fontFamily: FONT, fontSize: FS,
      formatter: v => (p.dec ? Number(v).toFixed(p.dec) : String(Math.round(v))).replace('-', '\u2212') },
    splitLine: { show: true, lineStyle: { color: '#cccccc', width: 1 } },
    name: '{m|Q}{s|' + p.sub + '}{m| [MJ m}{p|\u22122}{m| d}{p|\u22121}{m|]}',
    nameLocation: 'middle', nameGap: 26, nameRotate: 90,
    nameTextStyle: {
      color: '#111', fontFamily: FONT, fontSize: NFS,
      rich: {
        m: { fontFamily: FONT, fontSize: NFS, color: '#111', lineHeight: NLH, verticalAlign: 'middle' },
        s: { fontFamily: FONT, fontSize: SFS, color: '#111', lineHeight: NLH, verticalAlign: 'bottom' },
        p: { fontFamily: FONT, fontSize: SFS, color: '#111', lineHeight: NLH, verticalAlign: 'top' }
      }
    }
  });
  series.push({
    type: 'line', xAxisIndex: i, yAxisIndex: i, showSymbol: false, symbol: 'none',
    lineStyle: { color: '#000', width: 1.7 }, silent: true,
    data: p.data.map(([d, v]) => [dayToTime(d), v])
  });
});

const chart = echarts.init(document.getElementById('chart'), null, { renderer: 'canvas' });
chart.setOption({
  animation: false,
  backgroundColor: '#fff',
  grid: grids, xAxis: xAxes, yAxis: yAxes, series: series
});
</script>
</body>
</html>
